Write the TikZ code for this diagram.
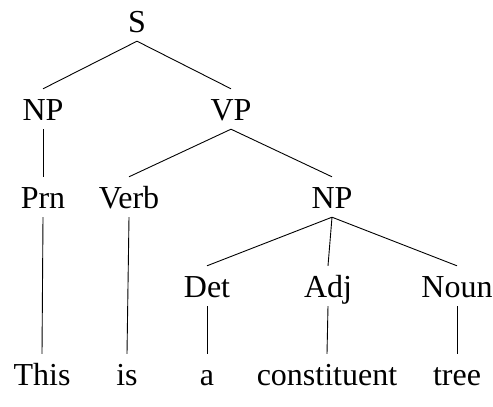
\documentclass[tikz,border=0pt]{standalone}
\usepackage{fontspec}
\setmainfont{Liberation Serif}
\begin{document}
\begin{tikzpicture}[x=1pt,y=-1pt,
  lab/.style={anchor=base,inner xsep=0pt,inner ysep=9pt,text height=22pt,text depth=0pt,font=\fontsize{32}{38}\selectfont},
  edge/.style={line width=0.9pt}]
\useasboundingbox (0,0) rectangle (493,407);
\node[lab] (S) at (137,32) {S};
\node[lab] (NPa) at (43,120) {NP};
\node[lab] (VP) at (231,120) {VP};
\node[lab] (Prn) at (43,208) {Prn};
\node[lab] (Verb) at (129,208) {Verb};
\node[lab] (NPb) at (332,208) {NP};
\node[lab] (Det) at (207,297) {Det};
\node[lab] (Adj) at (328,297) {Adj};
\node[lab] (Noun) at (457,297) {Noun};
\node[lab] (This) at (42,385) {This};
\node[lab] (is) at (127,385) {is};
\node[lab] (a) at (207,385) {a};
\node[lab] (con) at (327,385) {constituent};
\node[lab] (tree) at (457,385) {tree};
\draw[edge] (S.south) -- (NPa.north);
\draw[edge] (S.south) -- (VP.north);
\draw[edge] (NPa.south) -- (Prn.north);
\draw[edge] (VP.south) -- (Verb.north);
\draw[edge] (VP.south) -- (NPb.north);
\draw[edge] (NPb.south) -- (Det.north);
\draw[edge] (NPb.south) -- (Adj.north);
\draw[edge] (NPb.south) -- (Noun.north);
\draw[edge] (Prn.south) -- (This.north);
\draw[edge] (Verb.south) -- (is.north);
\draw[edge] (Det.south) -- (a.north);
\draw[edge] (Adj.south) -- (con.north);
\draw[edge] (Noun.south) -- (tree.north);
\end{tikzpicture}
\end{document}
